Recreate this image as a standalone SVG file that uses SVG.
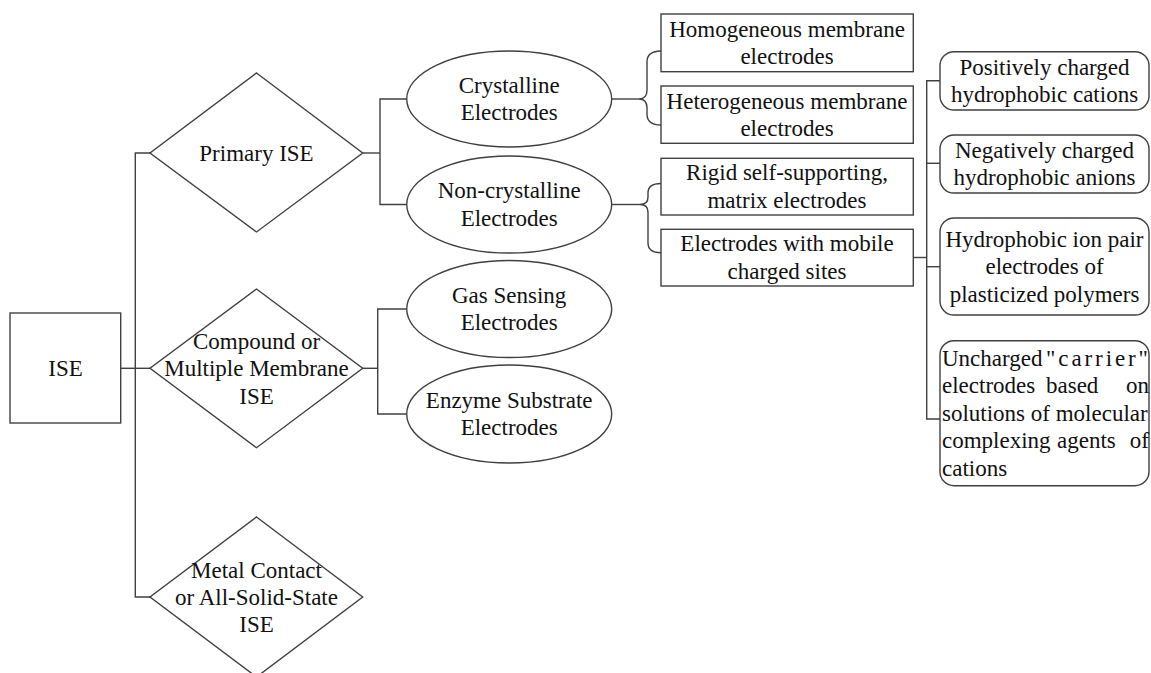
<svg xmlns="http://www.w3.org/2000/svg" width="1151" height="673" viewBox="0 0 1151 673" font-family="'Liberation Serif', 'Times New Roman', Times, 'DejaVu Serif', serif">
<style>
.s{fill:#fff;stroke:#404040;stroke-width:1.4}
.c{fill:none;stroke:#404040;stroke-width:1.4}
text{font-family:'Liberation Serif','Times New Roman',Times,'DejaVu Serif',serif;font-size:23px;fill:#111}
.m{text-anchor:middle}
.e{text-anchor:end}
</style>
<rect width="1151" height="673" fill="#fff"/>
<g id="connectors">
<path class="c" d="M121,368.3 H150"/>
<path class="c" d="M150,153 H135.3 V597 H150"/>
<path class="c" d="M362.7,153 H380"/>
<path class="c" d="M407,99 H380 V204.5 H407"/>
<path class="c" d="M362.7,368.3 H377.7"/>
<path class="c" d="M407,309 H377.7 V414 H407"/>
<path class="c" d="M611.7,99 H639"/>
<path class="c" d="M661,51 Q647,51 647,62 L647,90 Q647,99 639,99 Q647,99 647,108 L647,114 Q647,125 661,125"/>
<path class="c" d="M611.7,204.5 H640"/>
<path class="c" d="M661,183.5 Q648,183.5 648,193 L648,197 Q648,204.5 640,204.5 Q648,204.5 648,212 L648,243 Q648,252.7 661,252.7"/>
<path class="c" d="M913.3,257.5 H926.7"/>
<path class="c" d="M940,80.7 H926.7 V419 H940"/>
<path class="c" d="M926.7,163.3 H940"/>
<path class="c" d="M926.7,266.7 H940"/>
</g>
<g id="ise">
<rect class="s" x="10" y="313" width="110.7" height="110"/>
<text class="m" x="65.5" y="375.8">ISE</text>
</g>
<g id="primary">
<polygon class="s" points="256.5,73 362.7,153 256.5,232 150,153"/>
<text class="m" x="256.5" y="160.5">Primary ISE</text>
</g>
<g id="compound">
<polygon class="s" points="256.5,289 362.7,368.3 256.5,447.7 150,368.3"/>
<text class="m" x="256.5" y="348.5">Compound or</text>
<text class="m" x="256.5" y="376">Multiple Membrane</text>
<text class="m" x="256.5" y="403.5">ISE</text>
</g>
<g id="metal">
<polygon class="s" points="256.5,517 362.7,597 256.5,677 150,597"/>
<text class="m" x="256.5" y="577.5">Metal Contact</text>
<text class="m" x="256.5" y="605">or All-Solid-State</text>
<text class="m" x="256.5" y="632">ISE</text>
</g>
<g id="crystalline">
<ellipse class="s" cx="509.2" cy="99" rx="102.5" ry="48"/>
<text class="m" x="509.2" y="92.75">Crystalline</text>
<text class="m" x="509.2" y="120.25">Electrodes</text>
</g>
<g id="noncrystalline">
<ellipse class="s" cx="509.2" cy="204.5" rx="102.5" ry="48.5"/>
<text class="m" x="509.2" y="198.25">Non-crystalline</text>
<text class="m" x="509.2" y="225.75">Electrodes</text>
</g>
<g id="gas">
<ellipse class="s" cx="509.2" cy="309" rx="102.5" ry="48.5"/>
<text class="m" x="509.2" y="302.75">Gas Sensing</text>
<text class="m" x="509.2" y="330.25">Electrodes</text>
</g>
<g id="enzyme">
<ellipse class="s" cx="509.2" cy="414" rx="102.5" ry="49"/>
<text class="m" x="509.2" y="407.75">Enzyme Substrate</text>
<text class="m" x="509.2" y="435.25">Electrodes</text>
</g>
<g id="homogeneous">
<rect class="s" x="661" y="14" width="252.3" height="57.7"/>
<text class="m" x="787" y="36.6">Homogeneous membrane</text>
<text class="m" x="787" y="64.1">electrodes</text>
</g>
<g id="heterogeneous">
<rect class="s" x="661" y="86" width="252.3" height="57.3"/>
<text class="m" x="787" y="108.5">Heterogeneous membrane</text>
<text class="m" x="787" y="136">electrodes</text>
</g>
<g id="rigid">
<rect class="s" x="661" y="158.3" width="252.3" height="56.7"/>
<text class="m" x="787" y="180.4">Rigid self-supporting,</text>
<text class="m" x="787" y="208">matrix electrodes</text>
</g>
<g id="mobile">
<rect class="s" x="661" y="229.3" width="252.3" height="56.7"/>
<text class="m" x="787" y="251.4">Electrodes with mobile</text>
<text class="m" x="787" y="279">charged sites</text>
</g>
<g id="positive">
<rect class="s" x="940" y="51.7" width="209" height="58.3" rx="14"/>
<text class="m" x="1044.5" y="74.6">Positively charged</text>
<text class="m" x="1044.5" y="102.1">hydrophobic cations</text>
</g>
<g id="negative">
<rect class="s" x="940" y="135" width="209" height="58" rx="14"/>
<text class="m" x="1044.5" y="157.8">Negatively charged</text>
<text class="m" x="1044.5" y="185.3">hydrophobic anions</text>
</g>
<g id="ionpair">
<rect class="s" x="940" y="218" width="209" height="97" rx="14"/>
<text class="m" x="1044.5" y="246.5">Hydrophobic ion pair</text>
<text class="m" x="1044.5" y="274">electrodes of</text>
<text class="m" x="1044.5" y="301.5">plasticized polymers</text>
</g>
<g id="uncharged">
<rect class="s" x="940" y="340.7" width="209" height="145" rx="14"/>
<text x="942" y="365.5">Uncharged</text>
<text x="1046" y="365.5" textLength="102" lengthAdjust="spacing">"carrier"</text>
<text x="942" y="393">electrodes</text>
<text x="1046" y="393">based</text>
<text class="e" x="1149" y="393">on</text>
<text x="942" y="420.5">solutions of molecular</text>
<text x="942" y="448">complexing</text>
<text x="1057" y="448">agents</text>
<text class="e" x="1149" y="448">of</text>
<text x="942" y="475.5">cations</text>
</g>
</svg>
